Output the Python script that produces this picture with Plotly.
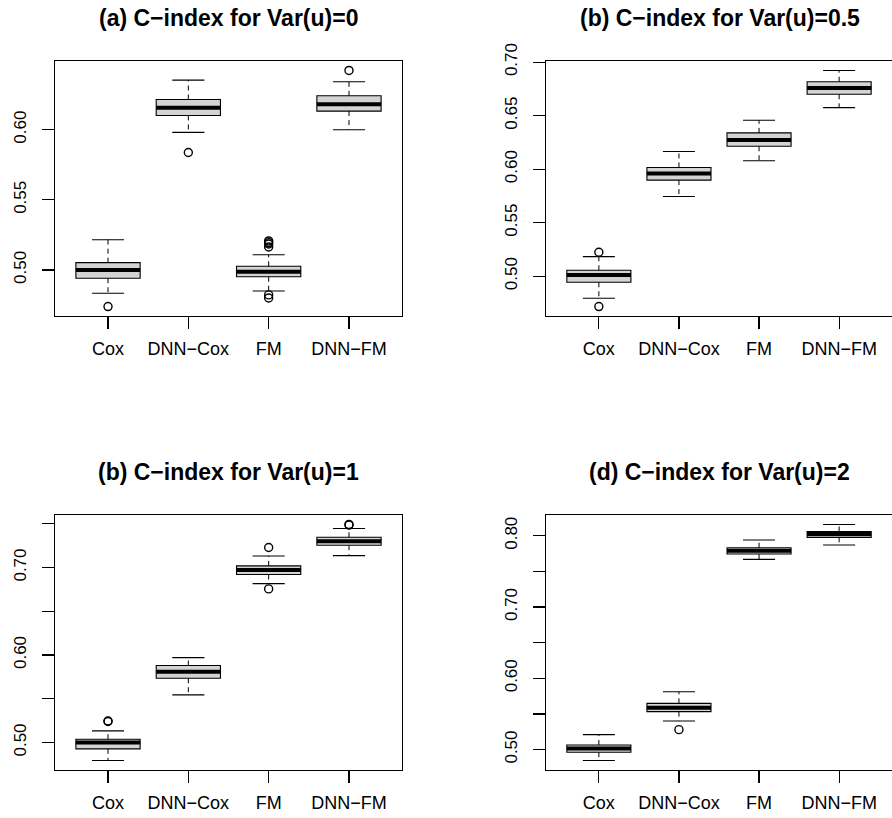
import plotly.graph_objects as go

# ---------------- data ----------------
methods = ["Cox", "DNN−Cox", "FM", "DNN−FM"]
titles = ["(a) C−index for Var(u)=0", "(b) C−index for Var(u)=0.5",
          "(b) C−index for Var(u)=1", "(d) C−index for Var(u)=2"]

# panel (a) Var(u)=0
a_lower = [0.4834, 0.5981, 0.4850, 0.6000]
a_q1 = [0.4941, 0.6102, 0.4952, 0.6133]
a_med = [0.5000, 0.6157, 0.4988, 0.6181]
a_q3 = [0.5052, 0.6216, 0.5026, 0.6242]
a_upper = [0.5216, 0.6354, 0.5109, 0.6342]
a_out = [[0.4739], [0.5838], [0.5207, 0.5195, 0.5185, 0.5164, 0.4822, 0.4800], [0.6423]]
a_ticks = [0.50, 0.55, 0.60]
a_ticklabels = ["0.50", "0.55", "0.60"]

# panel (b) Var(u)=0.5
b_lower = [0.4795, 0.5745, 0.6078, 0.6575]
b_q1 = [0.4944, 0.5898, 0.6214, 0.6699]
b_med = [0.5012, 0.5960, 0.6273, 0.6758]
b_q3 = [0.5056, 0.6016, 0.6339, 0.6817]
b_upper = [0.5183, 0.6165, 0.6457, 0.6922]
b_out = [[0.5224, 0.4717], [], [], []]
b_ticks = [0.50, 0.55, 0.60, 0.65, 0.70]
b_ticklabels = ["0.50", "0.55", "0.60", "0.65", "0.70"]

# panel (c) Var(u)=1
c_lower = [0.4794, 0.5545, 0.6817, 0.7137]
c_q1 = [0.4928, 0.5735, 0.6920, 0.7255]
c_med = [0.5000, 0.5808, 0.6973, 0.7301]
c_q3 = [0.5038, 0.5880, 0.7019, 0.7347]
c_upper = [0.5133, 0.5971, 0.7133, 0.7446]
c_out = [[0.5240, 0.5246], [], [0.7229, 0.6756], [0.7486, 0.7493]]
c_ticks = [0.50, 0.55, 0.60, 0.65, 0.70, 0.75]
c_ticklabels = ["0.50", "", "0.60", "", "0.70", ""]

# panel (d) Var(u)=2
d_lower = [0.4846, 0.5401, 0.7669, 0.7870]
d_q1 = [0.4963, 0.5532, 0.7744, 0.7977]
d_med = [0.5014, 0.5588, 0.7790, 0.8024]
d_q3 = [0.5065, 0.5649, 0.7832, 0.8061]
d_upper = [0.5210, 0.5812, 0.7940, 0.8159]
d_out = [[], [0.5280], [], []]
d_ticks = [0.50, 0.55, 0.60, 0.65, 0.70, 0.75, 0.80]
d_ticklabels = ["0.50", "", "0.60", "", "0.70", "", "0.80"]

panels = [
    (a_lower, a_q1, a_med, a_q3, a_upper, a_out, a_ticks, a_ticklabels),
    (b_lower, b_q1, b_med, b_q3, b_upper, b_out, b_ticks, b_ticklabels),
    (c_lower, c_q1, c_med, c_q3, c_upper, c_out, c_ticks, c_ticklabels),
    (d_lower, d_q1, d_med, d_q3, d_upper, d_out, d_ticks, d_ticklabels),
]

# ---------------- layout geometry ----------------
W, H = 892, 818
FONT = "Liberation Sans, Arial, Helvetica, sans-serif"
BOXW = 0.8
CAPW = 0.4
positions = [1, 2, 3, 4]

# plot-area pixel boxes (left, right, top, bottom)
px_boxes = [(55, 402, 61, 316), (546, 892, 61, 316),
            (55, 402, 515, 770), (546, 892, 515, 770)]
title_y = [18, 18, 472, 472]
right_cut = [False, True, False, True]

fig = go.Figure()
layout = dict(width=W, height=H, autosize=False,
              margin=dict(l=0, r=0, t=0, b=0, pad=0, autoexpand=False),
              paper_bgcolor="white", plot_bgcolor="white", showlegend=False,
              font=dict(family=FONT, color="black"), annotations=[])

for k, (lo, q1, med, q3, up, outs, ticks, tlabels) in enumerate(panels):
    n = k + 1
    xa = "x" if n == 1 else f"x{n}"
    ya = "y" if n == 1 else f"y{n}"

    # box bodies
    fig.add_trace(go.Box(x=positions, q1=q1, median=med, q3=q3,
                         lowerfence=q1, upperfence=q3, width=BOXW,
                         whiskerwidth=0, fillcolor="#D3D3D3",
                         line=dict(color="black", width=1.1),
                         boxpoints=False, hoverinfo="skip",
                         xaxis=xa, yaxis=ya))
    # thick medians
    mx, my = [], []
    for p, m in zip(positions, med):
        mx += [p - BOXW / 2, p + BOXW / 2, None]
        my += [m, m, None]
    fig.add_trace(go.Scatter(x=mx, y=my, mode="lines",
                             line=dict(color="black", width=4),
                             hoverinfo="skip", xaxis=xa, yaxis=ya))
    # dashed whiskers
    wx, wy = [], []
    for p, a, b, c, d in zip(positions, lo, q1, q3, up):
        wx += [p, p, None, p, p, None]
        wy += [b, a, None, c, d, None]
    fig.add_trace(go.Scatter(x=wx, y=wy, mode="lines",
                             line=dict(color="black", width=1, dash="5px,4px"),
                             hoverinfo="skip", xaxis=xa, yaxis=ya))
    # whisker caps
    cx, cy = [], []
    for p, a, d in zip(positions, lo, up):
        cx += [p - CAPW / 2, p + CAPW / 2, None, p - CAPW / 2, p + CAPW / 2, None]
        cy += [a, a, None, d, d, None]
    fig.add_trace(go.Scatter(x=cx, y=cy, mode="lines",
                             line=dict(color="black", width=1.1),
                             hoverinfo="skip", xaxis=xa, yaxis=ya))
    # outliers
    ox, oy = [], []
    for p, o in zip(positions, outs):
        ox += [p] * len(o)
        oy += list(o)
    if ox:
        fig.add_trace(go.Scatter(x=ox, y=oy, mode="markers",
                                 marker=dict(symbol="circle-open", size=8, color="black",
                                             line=dict(width=1.4, color="black")),
                                 hoverinfo="skip", xaxis=xa, yaxis=ya))

    # R-style range: data range padded by 4 %
    allv = lo + up + [v for o in outs for v in o]
    vmin, vmax = min(allv), max(allv)
    pad = 0.04 * (vmax - vmin)

    L, R, T, B = px_boxes[k]
    xdom = [L / W, min(R / W, 1.0)]
    ydom = [1 - B / H, 1 - T / H]

    axkey_x = "xaxis" if n == 1 else f"xaxis{n}"
    axkey_y = "yaxis" if n == 1 else f"yaxis{n}"
    layout[axkey_x] = dict(domain=xdom, anchor=ya, range=[0.34, 4.66],
                           automargin=False,
                           tickmode="array", tickvals=positions, ticktext=methods,
                           ticks="outside", ticklen=12, tickwidth=1.1, tickcolor="black",
                           showline=True, linecolor="black", linewidth=1.2,
                           mirror=True, showgrid=False, zeroline=False,
                           ticklabelstandoff=4,
                           tickfont=dict(size=18, family=FONT, color="black"))
    layout[axkey_y] = dict(domain=ydom, anchor=xa, range=[vmin - pad, vmax + pad],
                           automargin=False,
                           tickmode="array", tickvals=ticks, ticktext=tlabels,
                           ticks="outside", ticklen=12, tickwidth=1.1, tickcolor="black",
                           showline=True, linecolor="black", linewidth=1.2,
                           mirror=(not right_cut[k]), showgrid=False, zeroline=False,
                           tickangle=-90, ticklabelstandoff=9,
                           tickfont=dict(size=17, family=FONT, color="black"))
    layout["annotations"].append(dict(
        text=f"<b>{titles[k]}</b>", xref="paper", yref="paper",
        x=(L + R) / 2 / W if not right_cut[k] else (L + 893) / 2 / W,
        y=1 - title_y[k] / H, xanchor="center", yanchor="middle",
        showarrow=False, font=dict(size=23, family=FONT, color="black")))

fig.update_layout(**layout)
fig.write_html("out.html", config={"displayModeBar": False, "staticPlot": True},
               post_script="document.body.style.margin='0';document.body.style.overflow='hidden';")
